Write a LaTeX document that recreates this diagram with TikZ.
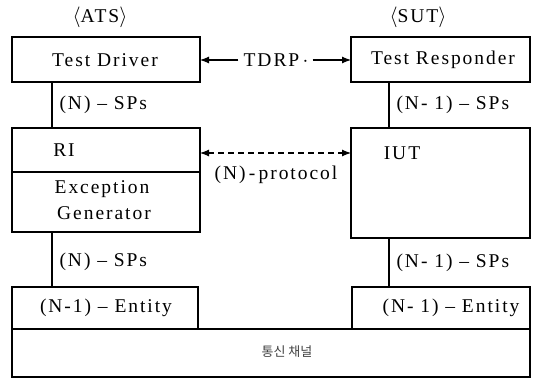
\documentclass[tikz,border=0pt]{standalone}
\usepackage{fontspec}
\setmainfont{Liberation Serif}
\newfontfamily\lsf{Liberation Serif}[LetterSpace=10]
\newfontfamily\kofont{Noto Sans CJK KR}
\usetikzlibrary{arrows.meta}
\begin{document}
\begin{tikzpicture}[x=1pt,y=-1pt,
  box/.style={draw,line width=1.1pt},
  lbl/.style={font=\lsf\fontsize{19.5}{22}\selectfont,inner sep=0pt},
  conn/.style={line width=1.1pt},
  tip/.style={-{Latex[length=9pt,width=7pt]}}]
\useasboundingbox (0,0) rectangle (544,382);
% boxes
\draw[box] (12,37) rectangle (200,82);
\node[lbl] (td) at (105,60) {Test Driver};
\coordinate (tdR) at (200,60);
\coordinate (tdB) at (52,82);
\draw[box] (351,37) rectangle (530,82);
\node[lbl] (tr) at (443,60) {Test Responder};
\coordinate (trL) at (351,60);
\coordinate (trB) at (389,82);
\node[lbl] (ats) at (100,17) {$\langle$ATS$\rangle$};
\node[lbl] (sut) at (418,17) {$\langle$SUT$\rangle$};
% RI / Exception
\draw[box] (12,128) rectangle (200,232);
\draw[box] (12,172) -- (200,172);
\node[lbl] (ri) at (64,150) {RI};
\node[lbl] (exc) at (102,189) {Exception};
\node[lbl] (gen) at (104,213) {Generator};
\coordinate (riT) at (52,128);
\coordinate (riR) at (200,153);
\coordinate (riB) at (52,232);
% IUT
\draw[box] (351,128) rectangle (530,238);
\node[lbl] (iut) at (402,153) {IUT};
\coordinate (iutT) at (389,128);
\coordinate (iutL) at (351,153);
\coordinate (iutB) at (389,238);
% entities
\draw[box] (12,287) rectangle (198,329);
\node[lbl] (e1) at (106,308) {(N-1) – Entity};
\coordinate (e1T) at (52,287);
\draw[box] (352,287) rectangle (530,329);
\node[lbl] (e2) at (451,308) {(N- 1) – Entity};
\coordinate (e2T) at (389,287);
\draw[box] (12,329) rectangle (530,377);
\node[inner sep=0pt,text=black!75,font=\kofont\fontsize{13}{15}\selectfont] (ch) at (287,352) {통신 채널};
% connectors
\draw[conn] (tdB) -- (riT) node[lbl,midway,right=7pt] (sp1) {(N) – SPs};
\draw[conn] (trB) -- (iutT) node[lbl,midway,right=7pt] (sp2) {(N- 1) – SPs};
\draw[conn] (riB) -- (e1T) node[lbl,pos=0.55,right=7pt] (sp3) {(N) – SPs};
\draw[conn] (iutB) -- (e2T) node[lbl,pos=0.5,right=7pt] (sp4) {(N- 1) – SPs};
\node[lbl] (tdrp) at (276,60) {TDRP\,$\cdot$};
\draw[conn,tip] (tdrp.west) ++(-5pt,0) coordinate (ta) -- (tdR);
\draw[conn,tip] (tdrp.east) ++(4pt,0) coordinate (tb) -- (trL);
\draw[conn,dashed,dash pattern=on 6pt off 4pt,{Latex[length=9pt,width=7pt]}-{Latex[length=9pt,width=7pt]}] (riR) -- (iutL);
\node[lbl] (prot) at (276,175) {(N)\,-\,protocol};
\end{tikzpicture}
\end{document}
